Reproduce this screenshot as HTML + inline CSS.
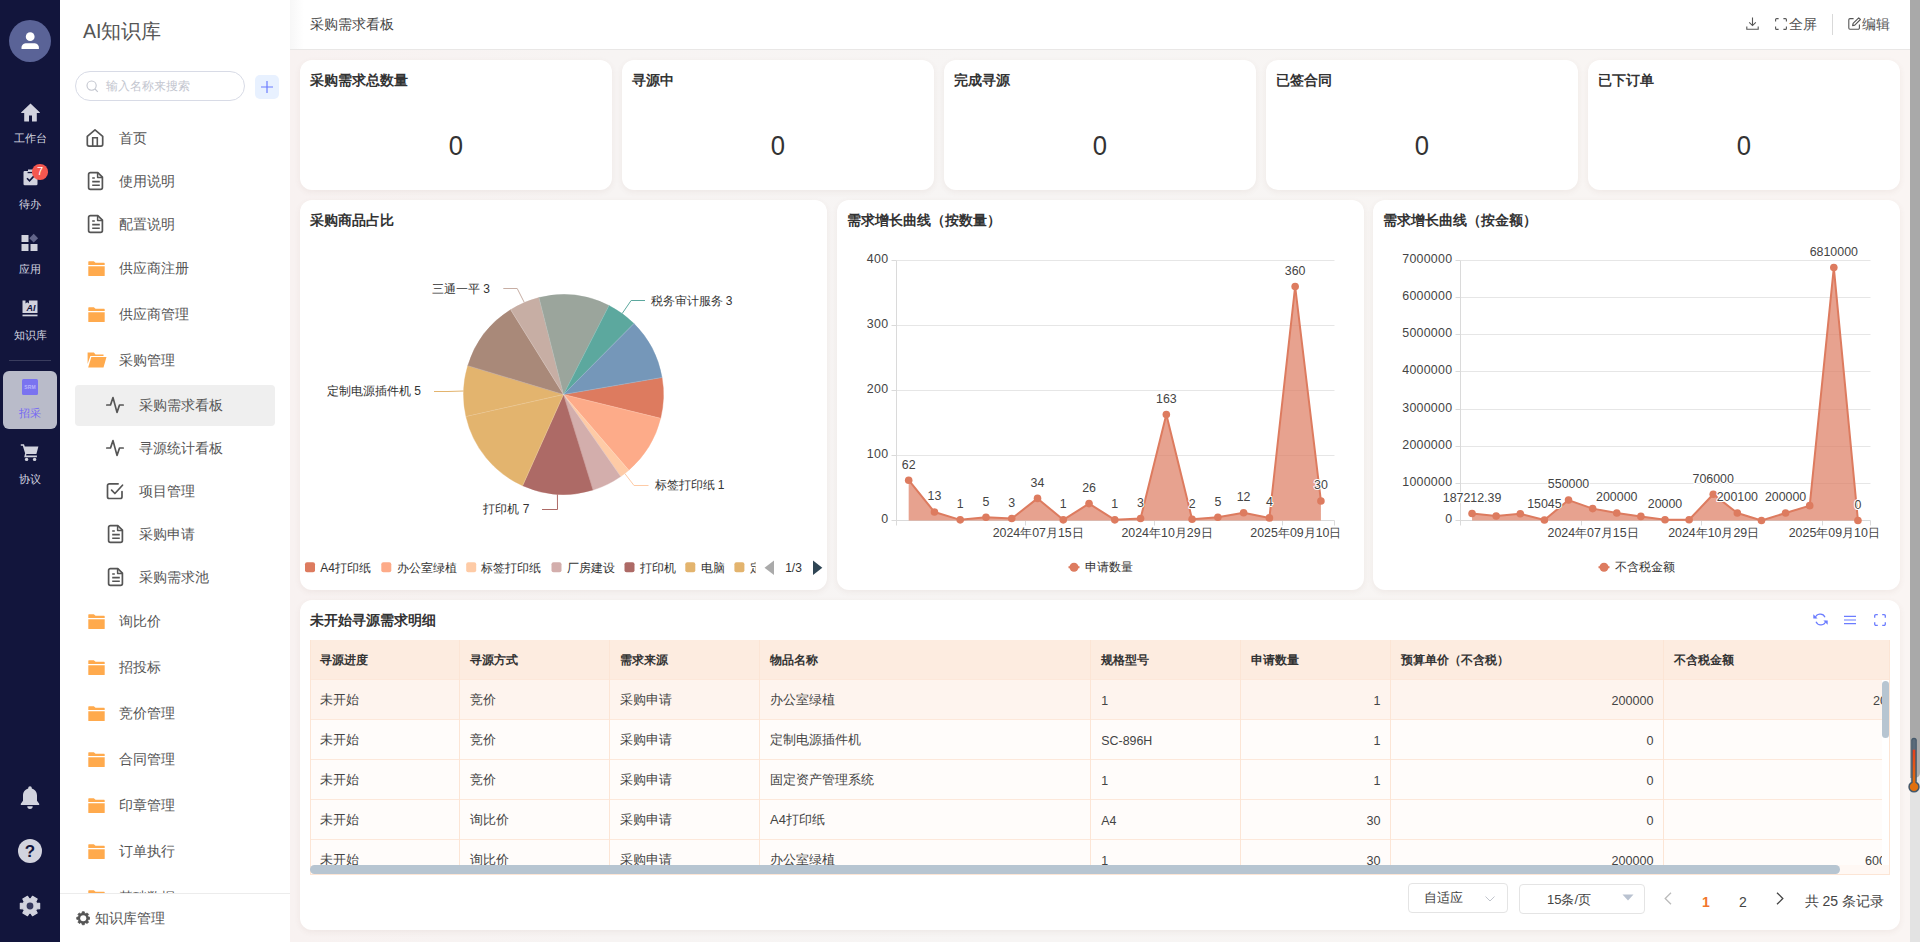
<!DOCTYPE html>
<html lang="zh"><head><meta charset="utf-8"><title>采购需求看板</title><style>
*{box-sizing:border-box;margin:0;padding:0}
html,body{width:1920px;height:942px;overflow:hidden}
body{font-family:"Liberation Sans",sans-serif;font-size:14px;color:#333;background:#f7f4f3;position:relative}
#bg{position:absolute;left:290px;top:0;width:1620px;height:942px;background:linear-gradient(90deg,#f8f2f1 0%,#f7f4f3 20%,#f7f5f4 45%,#f8f5f3 75%,#faf5f3 100%)}
.abs{position:absolute}
#rail{position:absolute;left:0;top:0;width:60px;height:942px;background:#12153c}
#rail .lbl{position:absolute;left:0;width:60px;text-align:center;font-size:11px;line-height:14px;color:#d6d7e1;font-weight:500}
#rail svg{position:absolute}
#side{position:absolute;left:60px;top:0;width:230px;height:942px;background:#fff}
#side .mi{position:absolute;left:0;width:230px;height:20px;line-height:20px;font-size:14px;color:#555}
#side .mi span{position:absolute;top:0;white-space:nowrap}
#side svg{position:absolute}
#top{position:absolute;left:290px;top:0;width:1620px;height:50px;background:linear-gradient(90deg,#f7f7f7 0,#fff 14px);border-bottom:1px solid #e9e7e6}
.card{position:absolute;background:#fff;border-radius:12px;box-shadow:0 2px 6px rgba(120,70,60,.07)}
.ct{position:absolute;left:10px;top:10px;font-size:14px;font-weight:bold;line-height:20px;color:#333;white-space:nowrap}
.kv{position:absolute;left:0;right:0;top:67px;text-align:center;font-size:28.500px;line-height:36px;color:#333}
.kv span{display:inline-block;transform:scaleX(.9)}
svg text{font-family:"Liberation Sans",sans-serif}
</style></head>
<body>
<div id="bg"></div>
<div id="top">
<div class="abs" style="left:20px;top:14px;font-size:14.200px;font-weight:500;line-height:20px;color:#444;white-space:nowrap">采购需求看板</div>
<svg class="abs" style="left:1455.5px;top:17px" width="13" height="13" viewBox="0 0 13 13"><path d="M6.5 0.4v8M3.2 5.4l3.3 3.2 3.3-3.2M0.8 9.4v2.9h11.4V9.4" fill="none" stroke="#555" stroke-width="1.1"/></svg>
<svg class="abs" style="left:1485px;top:18px" width="12" height="12" viewBox="0 0 12 12"><path d="M0.6 3.6V1.6a1 1 0 0 1 1-1h2M8.4 0.6h2a1 1 0 0 1 1 1v2M11.4 8.4v2a1 1 0 0 1-1 1h-2M3.6 11.4h-2a1 1 0 0 1-1-1v-2" fill="none" stroke="#555" stroke-width="1.1"/></svg>
<div class="abs" style="left:1498.5px;top:14px;font-size:14px;line-height:20px;color:#555;white-space:nowrap">全屏</div>
<div class="abs" style="left:1542px;top:14px;width:1px;height:21px;background:#d9d9d9"></div>
<svg class="abs" style="left:1558px;top:17px" width="13" height="13" viewBox="0 0 13 13"><path d="M5.6 1.6H2a1.2 1.2 0 0 0-1.2 1.2V11A1.2 1.2 0 0 0 2 12.200h8.200A1.2 1.2 0 0 0 11.400 11V7.600" fill="none" stroke="#555" stroke-width="1.1"/><path d="M4.6 8.6l0.500-2.200 5.600-5.600 1.700 1.700-5.600 5.600z" fill="none" stroke="#555" stroke-width="1.1" stroke-linejoin="round"/></svg>
<div class="abs" style="left:1572px;top:14px;font-size:14px;line-height:20px;color:#555;white-space:nowrap">编辑</div>
</div>
<div class="card" style="left:300px;top:60px;width:312px;height:130px"><div class="ct">采购需求总数量</div><div class="kv"><span>0</span></div></div>
<div class="card" style="left:622px;top:60px;width:312px;height:130px"><div class="ct">寻源中</div><div class="kv"><span>0</span></div></div>
<div class="card" style="left:944px;top:60px;width:312px;height:130px"><div class="ct">完成寻源</div><div class="kv"><span>0</span></div></div>
<div class="card" style="left:1266px;top:60px;width:312px;height:130px"><div class="ct">已签合同</div><div class="kv"><span>0</span></div></div>
<div class="card" style="left:1588px;top:60px;width:312px;height:130px"><div class="ct">已下订单</div><div class="kv"><span>0</span></div></div>
<div class="card" style="left:300px;top:200px;width:527px;height:390px"><div class="ct">采购商品占比</div><svg class="abs" style="left:0;top:0" width="527" height="390" viewBox="300 200 527 390">
<path d="M563.50 394.50L662.04 377.48A100 100 0 0 1 660.61 418.36Z" fill="#dd7b5f" stroke="#dd7b5f" stroke-width=".4"/>
<path d="M563.50 394.50L660.61 418.36A100 100 0 0 1 628.82 470.22Z" fill="#fdab89" stroke="#fdab89" stroke-width=".4"/>
<path d="M563.50 394.50L628.82 470.22A100 100 0 0 1 620.69 476.53Z" fill="#fecba6" stroke="#fecba6" stroke-width=".4"/>
<path d="M563.50 394.50L620.69 476.53A100 100 0 0 1 593.03 490.04Z" fill="#d3aeac" stroke="#d3aeac" stroke-width=".4"/>
<path d="M563.50 394.50L593.03 490.04A100 100 0 0 1 522.61 485.76Z" fill="#ad6a66" stroke="#ad6a66" stroke-width=".4"/>
<path d="M563.50 394.50L522.61 485.76A100 100 0 0 1 465.97 416.57Z" fill="#e3b46e" stroke="#e3b46e" stroke-width=".4"/>
<path d="M563.50 394.50L465.97 416.57A100 100 0 0 1 467.75 365.67Z" fill="#e3b46e" stroke="#e3b46e" stroke-width=".4"/>
<path d="M563.50 394.50L467.75 365.67A100 100 0 0 1 510.61 309.63Z" fill="#a98979" stroke="#a98979" stroke-width=".4"/>
<path d="M563.50 394.50L510.61 309.63A100 100 0 0 1 538.92 297.57Z" fill="#c7aea4" stroke="#c7aea4" stroke-width=".4"/>
<path d="M563.50 394.50L538.92 297.57A100 100 0 0 1 609.03 305.47Z" fill="#9ba59c" stroke="#9ba59c" stroke-width=".4"/>
<path d="M563.50 394.50L609.03 305.47A100 100 0 0 1 633.95 323.53Z" fill="#5ca89e" stroke="#5ca89e" stroke-width=".4"/>
<path d="M563.50 394.50L633.95 323.53A100 100 0 0 1 662.04 377.48Z" fill="#7597b9" stroke="#7597b9" stroke-width=".4"/>
<path d="M563.50 394.50L662.04 377.48" stroke="#fff" stroke-opacity=".28" stroke-width=".6"/>
<path d="M563.50 394.50L660.61 418.36" stroke="#fff" stroke-opacity=".28" stroke-width=".6"/>
<path d="M563.50 394.50L628.82 470.22" stroke="#fff" stroke-opacity=".28" stroke-width=".6"/>
<path d="M563.50 394.50L620.69 476.53" stroke="#fff" stroke-opacity=".28" stroke-width=".6"/>
<path d="M563.50 394.50L593.03 490.04" stroke="#fff" stroke-opacity=".28" stroke-width=".6"/>
<path d="M563.50 394.50L522.61 485.76" stroke="#fff" stroke-opacity=".28" stroke-width=".6"/>
<path d="M563.50 394.50L465.97 416.57" stroke="#fff" stroke-opacity=".28" stroke-width=".6"/>
<path d="M563.50 394.50L467.75 365.67" stroke="#fff" stroke-opacity=".28" stroke-width=".6"/>
<path d="M563.50 394.50L510.61 309.63" stroke="#fff" stroke-opacity=".28" stroke-width=".6"/>
<path d="M563.50 394.50L538.92 297.57" stroke="#fff" stroke-opacity=".28" stroke-width=".6"/>
<path d="M563.50 394.50L609.03 305.47" stroke="#fff" stroke-opacity=".28" stroke-width=".6"/>
<path d="M563.50 394.50L633.95 323.53" stroke="#fff" stroke-opacity=".28" stroke-width=".6"/>
<path d="M524.3 302.5L517.2 288.5L503.3 288.5" fill="none" stroke="#c7aea4" stroke-width="1"/>
<text x="490" y="292.7" font-size="12" fill="#333" text-anchor="end">三通一平 3</text>
<path d="M622.2 313.5L631.1 300.5L645.0 300.5" fill="none" stroke="#5ca89e" stroke-width="1"/>
<text x="650.5" y="304.8" font-size="12" fill="#333" text-anchor="start">税务审计服务 3</text>
<path d="M463.6 391.0L448.0 391.5L434.0 391.5" fill="none" stroke="#e3b46e" stroke-width="1"/>
<text x="421" y="394.8" font-size="12" fill="#333" text-anchor="end">定制电源插件机 5</text>
<path d="M557.4 494.3L557.5 509.5L542.0 509.5" fill="none" stroke="#ad6a66" stroke-width="1"/>
<text x="529.5" y="512.6" font-size="12" fill="#333" text-anchor="end">打印机 7</text>
<path d="M624.8 473.5L634.0 485.5L648.5 485.5" fill="none" stroke="#fecba6" stroke-width="1"/>
<text x="654.5" y="488.8" font-size="12" fill="#333" text-anchor="start">标签打印纸 1</text>
<clipPath id="lgc"><rect x="300" y="555" width="455.5" height="25"/></clipPath><g clip-path="url(#lgc)">
<rect x="305" y="562.3" width="10" height="10" rx="2" fill="#dd7b5f"/>
<text x="320.2" y="571.5" font-size="12" fill="#333">A4打印纸</text>
<rect x="381.3" y="562.3" width="10" height="10" rx="2" fill="#fdab89"/>
<text x="396.5" y="571.5" font-size="12" fill="#333">办公室绿植</text>
<rect x="466.2" y="562.3" width="10" height="10" rx="2" fill="#fecba6"/>
<text x="481.4" y="571.5" font-size="12" fill="#333">标签打印纸</text>
<rect x="551.5" y="562.3" width="10" height="10" rx="2" fill="#d3aeac"/>
<text x="566.7" y="571.5" font-size="12" fill="#333">厂房建设</text>
<rect x="624.5" y="562.3" width="10" height="10" rx="2" fill="#ad6a66"/>
<text x="639.7" y="571.5" font-size="12" fill="#333">打印机</text>
<rect x="685.3" y="562.3" width="10" height="10" rx="2" fill="#e3b46e"/>
<text x="700.5" y="571.5" font-size="12" fill="#333">电脑</text>
<rect x="734.4" y="562.3" width="10" height="10" rx="2" fill="#e3b46e"/>
<text x="749.6" y="571.5" font-size="12" fill="#333">定制电源插件机</text>
</g>
<path d="M774 560.5v14.500L764.500 567.700z" fill="#aaa"/>
<text x="793.5" y="571.5" font-size="12" fill="#333" text-anchor="middle">1/3</text>
<path d="M813 560.500v14.500L822.300 567.700z" fill="#2f4554"/>
</svg></div>
<div class="card" style="left:837px;top:200px;width:527px;height:390px"><div class="ct">需求增长曲线（按数量）</div><svg class="abs" style="left:0;top:0" width="527" height="390" viewBox="837 200 527 390">
<path d="M891.5 520.5H896.5" stroke="#dadada" stroke-width="1"/>
<text x="888.3" y="523.3" font-size="12.4" fill="#444" text-anchor="end" letter-spacing=".25">0</text>
<path d="M896.5 455.5H1334.5" stroke="#e6e6e6" stroke-width="1"/>
<path d="M891.5 455.5H896.5" stroke="#dadada" stroke-width="1"/>
<text x="888.3" y="458.3" font-size="12.4" fill="#444" text-anchor="end" letter-spacing=".25">100</text>
<path d="M896.5 390.5H1334.5" stroke="#e6e6e6" stroke-width="1"/>
<path d="M891.5 390.5H896.5" stroke="#dadada" stroke-width="1"/>
<text x="888.3" y="393.3" font-size="12.4" fill="#444" text-anchor="end" letter-spacing=".25">200</text>
<path d="M896.5 325.5H1334.5" stroke="#e6e6e6" stroke-width="1"/>
<path d="M891.5 325.5H896.5" stroke="#dadada" stroke-width="1"/>
<text x="888.3" y="328.3" font-size="12.4" fill="#444" text-anchor="end" letter-spacing=".25">300</text>
<path d="M896.5 260.5H1334.5" stroke="#e6e6e6" stroke-width="1"/>
<path d="M891.5 260.5H896.5" stroke="#dadada" stroke-width="1"/>
<text x="888.3" y="263.3" font-size="12.4" fill="#444" text-anchor="end" letter-spacing=".25">400</text>
<path d="M896.5 260.5V525.5" stroke="#dadada" stroke-width="1"/>
<path d="M896.5 520.5H1334.5" stroke="#dadada" stroke-width="1"/>
<path d="M1025.5 520.5V525.5" stroke="#dadada" stroke-width="1"/>
<path d="M1154.5 520.5V525.5" stroke="#dadada" stroke-width="1"/>
<path d="M1282.5 520.5V525.5" stroke="#dadada" stroke-width="1"/>
<path d="M1334.5 520.5V525.5" stroke="#dadada" stroke-width="1"/>
<text x="1038.2" y="537" font-size="12.4" fill="#444" text-anchor="middle">2024年07月15日</text>
<text x="1167.0" y="537" font-size="12.4" fill="#444" text-anchor="middle">2024年10月29日</text>
<text x="1295.9" y="537" font-size="12.4" fill="#444" text-anchor="middle">2025年09月10日</text>
<path d="M908.68 480.20L934.45 512.05L960.21 519.85L985.98 517.25L1011.74 518.55L1037.51 498.40L1063.27 519.85L1089.04 503.60L1114.80 519.85L1140.56 518.55L1166.33 414.55L1192.09 519.20L1217.86 517.25L1243.62 512.70L1269.39 517.90L1295.15 286.50L1320.92 501.00L1320.92 520.5L908.68 520.5Z" fill="#dd7b5f" fill-opacity=".7"/>
<path d="M908.68 480.20L934.45 512.05L960.21 519.85L985.98 517.25L1011.74 518.55L1037.51 498.40L1063.27 519.85L1089.04 503.60L1114.80 519.85L1140.56 518.55L1166.33 414.55L1192.09 519.20L1217.86 517.25L1243.62 512.70L1269.39 517.90L1295.15 286.50L1320.92 501.00" fill="none" stroke="#dd7b5f" stroke-width="2" stroke-linejoin="round"/>
<circle cx="908.68" cy="480.20" r="3.800" fill="#dd7b5f"/>
<circle cx="934.45" cy="512.05" r="3.800" fill="#dd7b5f"/>
<circle cx="960.21" cy="519.85" r="3.800" fill="#dd7b5f"/>
<circle cx="985.98" cy="517.25" r="3.800" fill="#dd7b5f"/>
<circle cx="1011.74" cy="518.55" r="3.800" fill="#dd7b5f"/>
<circle cx="1037.51" cy="498.40" r="3.800" fill="#dd7b5f"/>
<circle cx="1063.27" cy="519.85" r="3.800" fill="#dd7b5f"/>
<circle cx="1089.04" cy="503.60" r="3.800" fill="#dd7b5f"/>
<circle cx="1114.80" cy="519.85" r="3.800" fill="#dd7b5f"/>
<circle cx="1140.56" cy="518.55" r="3.800" fill="#dd7b5f"/>
<circle cx="1166.33" cy="414.55" r="3.800" fill="#dd7b5f"/>
<circle cx="1192.09" cy="519.20" r="3.800" fill="#dd7b5f"/>
<circle cx="1217.86" cy="517.25" r="3.800" fill="#dd7b5f"/>
<circle cx="1243.62" cy="512.70" r="3.800" fill="#dd7b5f"/>
<circle cx="1269.39" cy="517.90" r="3.800" fill="#dd7b5f"/>
<circle cx="1295.15" cy="286.50" r="3.800" fill="#dd7b5f"/>
<circle cx="1320.92" cy="501.00" r="3.800" fill="#dd7b5f"/>
<text x="908.68" y="468.50" font-size="12.4" fill="#444" text-anchor="middle" stroke="#fff" stroke-width="2" paint-order="stroke" stroke-linejoin="round">62</text>
<text x="934.45" y="500.35" font-size="12.4" fill="#444" text-anchor="middle" stroke="#fff" stroke-width="2" paint-order="stroke" stroke-linejoin="round">13</text>
<text x="960.21" y="508.15" font-size="12.4" fill="#444" text-anchor="middle" stroke="#fff" stroke-width="2" paint-order="stroke" stroke-linejoin="round">1</text>
<text x="985.98" y="505.55" font-size="12.4" fill="#444" text-anchor="middle" stroke="#fff" stroke-width="2" paint-order="stroke" stroke-linejoin="round">5</text>
<text x="1011.74" y="506.85" font-size="12.4" fill="#444" text-anchor="middle" stroke="#fff" stroke-width="2" paint-order="stroke" stroke-linejoin="round">3</text>
<text x="1037.51" y="486.70" font-size="12.4" fill="#444" text-anchor="middle" stroke="#fff" stroke-width="2" paint-order="stroke" stroke-linejoin="round">34</text>
<text x="1063.27" y="508.15" font-size="12.4" fill="#444" text-anchor="middle" stroke="#fff" stroke-width="2" paint-order="stroke" stroke-linejoin="round">1</text>
<text x="1089.04" y="491.90" font-size="12.4" fill="#444" text-anchor="middle" stroke="#fff" stroke-width="2" paint-order="stroke" stroke-linejoin="round">26</text>
<text x="1114.80" y="508.15" font-size="12.4" fill="#444" text-anchor="middle" stroke="#fff" stroke-width="2" paint-order="stroke" stroke-linejoin="round">1</text>
<text x="1140.56" y="506.85" font-size="12.4" fill="#444" text-anchor="middle" stroke="#fff" stroke-width="2" paint-order="stroke" stroke-linejoin="round">3</text>
<text x="1166.33" y="402.85" font-size="12.4" fill="#444" text-anchor="middle" stroke="#fff" stroke-width="2" paint-order="stroke" stroke-linejoin="round">163</text>
<text x="1192.09" y="507.50" font-size="12.4" fill="#444" text-anchor="middle" stroke="#fff" stroke-width="2" paint-order="stroke" stroke-linejoin="round">2</text>
<text x="1217.86" y="505.55" font-size="12.4" fill="#444" text-anchor="middle" stroke="#fff" stroke-width="2" paint-order="stroke" stroke-linejoin="round">5</text>
<text x="1243.62" y="501.00" font-size="12.4" fill="#444" text-anchor="middle" stroke="#fff" stroke-width="2" paint-order="stroke" stroke-linejoin="round">12</text>
<text x="1269.39" y="506.20" font-size="12.4" fill="#444" text-anchor="middle" stroke="#fff" stroke-width="2" paint-order="stroke" stroke-linejoin="round">4</text>
<text x="1295.15" y="274.80" font-size="12.4" fill="#444" text-anchor="middle" stroke="#fff" stroke-width="2" paint-order="stroke" stroke-linejoin="round">360</text>
<text x="1320.92" y="489.30" font-size="12.4" fill="#444" text-anchor="middle" stroke="#fff" stroke-width="2" paint-order="stroke" stroke-linejoin="round">30</text>
<path d="M1068.5 567.2h11" stroke="#dd7b5f" stroke-width="2"/><circle cx="1074" cy="567.2" r="4.5" fill="#dd7b5f"/>
<text x="1084.5" y="570.7" font-size="12" fill="#333">申请数量</text>
</svg></div>
<div class="card" style="left:1373px;top:200px;width:527px;height:390px"><div class="ct">需求增长曲线（按金额）</div><svg class="abs" style="left:0;top:0" width="527" height="390" viewBox="1373 200 527 390">
<path d="M1455.5 520.5H1460.5" stroke="#dadada" stroke-width="1"/>
<text x="1452.3" y="523.3" font-size="12.4" fill="#444" text-anchor="end" letter-spacing=".25">0</text>
<path d="M1460.5 483.5H1870.5" stroke="#e6e6e6" stroke-width="1"/>
<path d="M1455.5 483.5H1460.5" stroke="#dadada" stroke-width="1"/>
<text x="1452.3" y="486.3" font-size="12.4" fill="#444" text-anchor="end" letter-spacing=".25">1000000</text>
<path d="M1460.5 446.5H1870.5" stroke="#e6e6e6" stroke-width="1"/>
<path d="M1455.5 446.5H1460.5" stroke="#dadada" stroke-width="1"/>
<text x="1452.3" y="449.3" font-size="12.4" fill="#444" text-anchor="end" letter-spacing=".25">2000000</text>
<path d="M1460.5 409.5H1870.5" stroke="#e6e6e6" stroke-width="1"/>
<path d="M1455.5 409.5H1460.5" stroke="#dadada" stroke-width="1"/>
<text x="1452.3" y="412.3" font-size="12.4" fill="#444" text-anchor="end" letter-spacing=".25">3000000</text>
<path d="M1460.5 371.5H1870.5" stroke="#e6e6e6" stroke-width="1"/>
<path d="M1455.5 371.5H1460.5" stroke="#dadada" stroke-width="1"/>
<text x="1452.3" y="374.3" font-size="12.4" fill="#444" text-anchor="end" letter-spacing=".25">4000000</text>
<path d="M1460.5 334.5H1870.5" stroke="#e6e6e6" stroke-width="1"/>
<path d="M1455.5 334.5H1460.5" stroke="#dadada" stroke-width="1"/>
<text x="1452.3" y="337.3" font-size="12.4" fill="#444" text-anchor="end" letter-spacing=".25">5000000</text>
<path d="M1460.5 297.5H1870.5" stroke="#e6e6e6" stroke-width="1"/>
<path d="M1455.5 297.5H1460.5" stroke="#dadada" stroke-width="1"/>
<text x="1452.3" y="300.3" font-size="12.4" fill="#444" text-anchor="end" letter-spacing=".25">6000000</text>
<path d="M1460.5 260.5H1870.5" stroke="#e6e6e6" stroke-width="1"/>
<path d="M1455.5 260.5H1460.5" stroke="#dadada" stroke-width="1"/>
<text x="1452.3" y="263.3" font-size="12.4" fill="#444" text-anchor="end" letter-spacing=".25">7000000</text>
<path d="M1460.5 260.5V525.5" stroke="#dadada" stroke-width="1"/>
<path d="M1460.5 520.5H1870.5" stroke="#dadada" stroke-width="1"/>
<path d="M1581.5 520.5V525.5" stroke="#dadada" stroke-width="1"/>
<path d="M1701.5 520.5V525.5" stroke="#dadada" stroke-width="1"/>
<path d="M1822.5 520.5V525.5" stroke="#dadada" stroke-width="1"/>
<path d="M1870.5 520.5V525.5" stroke="#dadada" stroke-width="1"/>
<text x="1593.1" y="537" font-size="12.4" fill="#444" text-anchor="middle">2024年07月15日</text>
<text x="1713.7" y="537" font-size="12.4" fill="#444" text-anchor="middle">2024年10月29日</text>
<text x="1834.3" y="537" font-size="12.4" fill="#444" text-anchor="middle">2025年09月10日</text>
<path d="M1472.06 513.55L1496.18 516.04L1520.29 513.81L1544.41 519.94L1568.53 500.07L1592.65 508.61L1616.76 513.07L1640.88 516.41L1665.00 519.76L1689.12 519.76L1713.24 494.28L1737.35 513.07L1761.47 520.50L1785.59 513.07L1809.71 505.64L1833.82 267.56L1857.94 520.50L1857.94 520.5L1472.06 520.5Z" fill="#dd7b5f" fill-opacity=".7"/>
<path d="M1472.06 513.55L1496.18 516.04L1520.29 513.81L1544.41 519.94L1568.53 500.07L1592.65 508.61L1616.76 513.07L1640.88 516.41L1665.00 519.76L1689.12 519.76L1713.24 494.28L1737.35 513.07L1761.47 520.50L1785.59 513.07L1809.71 505.64L1833.82 267.56L1857.94 520.50" fill="none" stroke="#dd7b5f" stroke-width="2" stroke-linejoin="round"/>
<circle cx="1472.06" cy="513.55" r="3.800" fill="#dd7b5f"/>
<circle cx="1496.18" cy="516.04" r="3.800" fill="#dd7b5f"/>
<circle cx="1520.29" cy="513.81" r="3.800" fill="#dd7b5f"/>
<circle cx="1544.41" cy="519.94" r="3.800" fill="#dd7b5f"/>
<circle cx="1568.53" cy="500.07" r="3.800" fill="#dd7b5f"/>
<circle cx="1592.65" cy="508.61" r="3.800" fill="#dd7b5f"/>
<circle cx="1616.76" cy="513.07" r="3.800" fill="#dd7b5f"/>
<circle cx="1640.88" cy="516.41" r="3.800" fill="#dd7b5f"/>
<circle cx="1665.00" cy="519.76" r="3.800" fill="#dd7b5f"/>
<circle cx="1689.12" cy="519.76" r="3.800" fill="#dd7b5f"/>
<circle cx="1713.24" cy="494.28" r="3.800" fill="#dd7b5f"/>
<circle cx="1737.35" cy="513.07" r="3.800" fill="#dd7b5f"/>
<circle cx="1761.47" cy="520.50" r="3.800" fill="#dd7b5f"/>
<circle cx="1785.59" cy="513.07" r="3.800" fill="#dd7b5f"/>
<circle cx="1809.71" cy="505.64" r="3.800" fill="#dd7b5f"/>
<circle cx="1833.82" cy="267.56" r="3.800" fill="#dd7b5f"/>
<circle cx="1857.94" cy="520.50" r="3.800" fill="#dd7b5f"/>
<text x="1472.06" y="501.85" font-size="12.4" fill="#444" text-anchor="middle" stroke="#fff" stroke-width="2" paint-order="stroke" stroke-linejoin="round">187212.39</text>
<text x="1544.41" y="508.24" font-size="12.4" fill="#444" text-anchor="middle" stroke="#fff" stroke-width="2" paint-order="stroke" stroke-linejoin="round">15045</text>
<text x="1568.53" y="488.37" font-size="12.4" fill="#444" text-anchor="middle" stroke="#fff" stroke-width="2" paint-order="stroke" stroke-linejoin="round">550000</text>
<text x="1616.76" y="501.37" font-size="12.4" fill="#444" text-anchor="middle" stroke="#fff" stroke-width="2" paint-order="stroke" stroke-linejoin="round">200000</text>
<text x="1665.00" y="508.06" font-size="12.4" fill="#444" text-anchor="middle" stroke="#fff" stroke-width="2" paint-order="stroke" stroke-linejoin="round">20000</text>
<text x="1713.24" y="482.58" font-size="12.4" fill="#444" text-anchor="middle" stroke="#fff" stroke-width="2" paint-order="stroke" stroke-linejoin="round">706000</text>
<text x="1737.35" y="501.37" font-size="12.4" fill="#444" text-anchor="middle" stroke="#fff" stroke-width="2" paint-order="stroke" stroke-linejoin="round">200100</text>
<text x="1785.59" y="501.37" font-size="12.4" fill="#444" text-anchor="middle" stroke="#fff" stroke-width="2" paint-order="stroke" stroke-linejoin="round">200000</text>
<text x="1833.82" y="255.86" font-size="12.4" fill="#444" text-anchor="middle" stroke="#fff" stroke-width="2" paint-order="stroke" stroke-linejoin="round">6810000</text>
<text x="1857.94" y="508.80" font-size="12.4" fill="#444" text-anchor="middle" stroke="#fff" stroke-width="2" paint-order="stroke" stroke-linejoin="round">0</text>
<path d="M1598.5 567.2h11" stroke="#dd7b5f" stroke-width="2"/><circle cx="1604" cy="567.2" r="4.5" fill="#dd7b5f"/>
<text x="1614.5" y="570.7" font-size="12" fill="#333">不含税金额</text>
</svg></div>
<div class="card" style="left:300px;top:600px;width:1600px;height:330px">
<div class="ct">未开始寻源需求明细</div>
<svg class="abs" style="left:1512.5px;top:12.9px" width="15" height="13" viewBox="0 0 15 13"><path d="M2.2 5.2A5.2 5.2 0 0 1 12 4.200M12.800 7.800A5.200 5.200 0 0 1 3 8.800" fill="none" stroke="#6b7cff" stroke-width="1.2"/><path d="M0.3 1.2v4.300h4.300zM14.700 11.800v-4.300h-4.300z" fill="#6b7cff"/></svg>
<svg class="abs" style="left:1544px;top:15px" width="12" height="10" viewBox="0 0 12 10"><path d="M0 1.400h12M0 5h12M0 8.600h12" stroke="#6b7cff" stroke-width="1.2"/></svg>
<svg class="abs" style="left:1574px;top:14px" width="12" height="12" viewBox="0 0 12 12"><path d="M0.7 3.800V1.900a1.200 1.200 0 0 1 1.200-1.200h1.900M8.200 0.700h1.900a1.200 1.200 0 0 1 1.200 1.200v1.900M11.300 8.200v1.900a1.200 1.200 0 0 1-1.200 1.200h-1.900M3.800 11.300H1.900a1.200 1.200 0 0 1-1.200-1.200V8.200" fill="none" stroke="#6b7cff" stroke-width="1.300"/></svg>
<div class="abs" style="left:10px;top:40px;width:1580px;height:235px;overflow:hidden">
<div class="abs" style="left:0;top:0;width:1580px;height:40px;background:#fdece0"></div>
<div class="abs" style="left:0;top:39px;width:1580px;height:40px;background:#fef4ee;border-top:1px solid #fde8da"></div>
<div class="abs" style="left:0;top:79px;width:1580px;height:40px;background:#fffcfa;border-top:1px solid #fde8da"></div>
<div class="abs" style="left:0;top:119px;width:1580px;height:40px;background:#fffcfa;border-top:1px solid #fde8da"></div>
<div class="abs" style="left:0;top:159px;width:1580px;height:40px;background:#fffcfa;border-top:1px solid #fde8da"></div>
<div class="abs" style="left:0;top:199px;width:1580px;height:40px;background:#fffcfa;border-top:1px solid #fde8da"></div>
<div class="abs" style="left:149px;top:0;width:1px;height:235px;background:#fce5d5"></div>
<div class="abs" style="left:299px;top:0;width:1px;height:235px;background:#fce5d5"></div>
<div class="abs" style="left:449px;top:0;width:1px;height:235px;background:#fce5d5"></div>
<div class="abs" style="left:780px;top:0;width:1px;height:235px;background:#fce5d5"></div>
<div class="abs" style="left:930px;top:0;width:1px;height:235px;background:#fce5d5"></div>
<div class="abs" style="left:1080px;top:0;width:1px;height:235px;background:#fce5d5"></div>
<div class="abs" style="left:1353px;top:0;width:1px;height:235px;background:#fce5d5"></div>
<div class="abs" style="left:0;top:0;width:1px;height:235px;background:#fce5d5"></div>
<div class="abs" style="left:10px;top:10px;font-size:12px;font-weight:bold;line-height:20px;color:#333;white-space:nowrap">寻源进度</div>
<div class="abs" style="left:160px;top:10px;font-size:12px;font-weight:bold;line-height:20px;color:#333;white-space:nowrap">寻源方式</div>
<div class="abs" style="left:310px;top:10px;font-size:12px;font-weight:bold;line-height:20px;color:#333;white-space:nowrap">需求来源</div>
<div class="abs" style="left:460px;top:10px;font-size:12px;font-weight:bold;line-height:20px;color:#333;white-space:nowrap">物品名称</div>
<div class="abs" style="left:791.3px;top:10px;font-size:12px;font-weight:bold;line-height:20px;color:#333;white-space:nowrap">规格型号</div>
<div class="abs" style="left:941.3px;top:10px;font-size:12px;font-weight:bold;line-height:20px;color:#333;white-space:nowrap">申请数量</div>
<div class="abs" style="left:1091.3px;top:10px;font-size:12px;font-weight:bold;line-height:20px;color:#333;white-space:nowrap">预算单价（不含税）</div>
<div class="abs" style="left:1364.3px;top:10px;font-size:12px;font-weight:bold;line-height:20px;color:#333;white-space:nowrap">不含税金额</div>
<div class="abs" style="left:10px;top:50px;font-size:13px;line-height:20px;color:#444;white-space:nowrap">未开始</div>
<div class="abs" style="left:160px;top:50px;font-size:13px;line-height:20px;color:#444;white-space:nowrap">竞价</div>
<div class="abs" style="left:310px;top:50px;font-size:13px;line-height:20px;color:#444;white-space:nowrap">采购申请</div>
<div class="abs" style="left:460px;top:50px;font-size:13px;line-height:20px;color:#444;white-space:nowrap">办公室绿植</div>
<div class="abs" style="left:791.3px;top:51px;font-size:12.400px;line-height:20px;color:#444;white-space:nowrap">1</div>
<div class="abs" style="right:509.5px;top:51px;font-size:12.600px;line-height:20px;color:#444;white-space:nowrap">1</div>
<div class="abs" style="right:236.5px;top:51px;font-size:12.600px;line-height:20px;color:#444;white-space:nowrap">200000</div>
<div class="abs" style="left:1563px;top:51px;font-size:12.600px;line-height:20px;color:#444;white-space:nowrap">200000</div>
<div class="abs" style="left:10px;top:90px;font-size:13px;line-height:20px;color:#444;white-space:nowrap">未开始</div>
<div class="abs" style="left:160px;top:90px;font-size:13px;line-height:20px;color:#444;white-space:nowrap">竞价</div>
<div class="abs" style="left:310px;top:90px;font-size:13px;line-height:20px;color:#444;white-space:nowrap">采购申请</div>
<div class="abs" style="left:460px;top:90px;font-size:13px;line-height:20px;color:#444;white-space:nowrap">定制电源插件机</div>
<div class="abs" style="left:791.3px;top:91px;font-size:12.400px;line-height:20px;color:#444;white-space:nowrap">SC-896H</div>
<div class="abs" style="right:509.5px;top:91px;font-size:12.600px;line-height:20px;color:#444;white-space:nowrap">1</div>
<div class="abs" style="right:236.5px;top:91px;font-size:12.600px;line-height:20px;color:#444;white-space:nowrap">0</div>
<div class="abs" style="left:10px;top:130px;font-size:13px;line-height:20px;color:#444;white-space:nowrap">未开始</div>
<div class="abs" style="left:160px;top:130px;font-size:13px;line-height:20px;color:#444;white-space:nowrap">竞价</div>
<div class="abs" style="left:310px;top:130px;font-size:13px;line-height:20px;color:#444;white-space:nowrap">采购申请</div>
<div class="abs" style="left:460px;top:130px;font-size:13px;line-height:20px;color:#444;white-space:nowrap">固定资产管理系统</div>
<div class="abs" style="left:791.3px;top:131px;font-size:12.400px;line-height:20px;color:#444;white-space:nowrap">1</div>
<div class="abs" style="right:509.5px;top:131px;font-size:12.600px;line-height:20px;color:#444;white-space:nowrap">1</div>
<div class="abs" style="right:236.5px;top:131px;font-size:12.600px;line-height:20px;color:#444;white-space:nowrap">0</div>
<div class="abs" style="left:10px;top:170px;font-size:13px;line-height:20px;color:#444;white-space:nowrap">未开始</div>
<div class="abs" style="left:160px;top:170px;font-size:13px;line-height:20px;color:#444;white-space:nowrap">询比价</div>
<div class="abs" style="left:310px;top:170px;font-size:13px;line-height:20px;color:#444;white-space:nowrap">采购申请</div>
<div class="abs" style="left:460px;top:170px;font-size:13px;line-height:20px;color:#444;white-space:nowrap">A4打印纸</div>
<div class="abs" style="left:791.3px;top:171px;font-size:12.400px;line-height:20px;color:#444;white-space:nowrap">A4</div>
<div class="abs" style="right:509.5px;top:171px;font-size:12.600px;line-height:20px;color:#444;white-space:nowrap">30</div>
<div class="abs" style="right:236.5px;top:171px;font-size:12.600px;line-height:20px;color:#444;white-space:nowrap">0</div>
<div class="abs" style="left:10px;top:210px;font-size:13px;line-height:20px;color:#444;white-space:nowrap">未开始</div>
<div class="abs" style="left:160px;top:210px;font-size:13px;line-height:20px;color:#444;white-space:nowrap">询比价</div>
<div class="abs" style="left:310px;top:210px;font-size:13px;line-height:20px;color:#444;white-space:nowrap">采购申请</div>
<div class="abs" style="left:460px;top:210px;font-size:13px;line-height:20px;color:#444;white-space:nowrap">办公室绿植</div>
<div class="abs" style="left:791.3px;top:211px;font-size:12.400px;line-height:20px;color:#444;white-space:nowrap">1</div>
<div class="abs" style="right:509.5px;top:211px;font-size:12.600px;line-height:20px;color:#444;white-space:nowrap">30</div>
<div class="abs" style="right:236.5px;top:211px;font-size:12.600px;line-height:20px;color:#444;white-space:nowrap">200000</div>
<div class="abs" style="left:1555px;top:211px;font-size:12.600px;line-height:20px;color:#444;white-space:nowrap">6000000</div>
<div class="abs" style="left:1572px;top:40px;width:8px;height:195px;background:#fff"></div>
<div class="abs" style="left:1579px;top:0;width:1px;height:235px;background:#fce5d5"></div>
<div class="abs" style="left:1572px;top:41px;width:7px;height:57px;border-radius:4px;background:#b7c5d1"></div>
<div class="abs" style="left:1px;top:225px;width:1578px;height:9px;background:#fff8f4"></div>
<div class="abs" style="left:0;top:225px;width:1530px;height:9px;border-radius:5px;background:#b7c5d1"></div>
<div class="abs" style="left:0;top:234px;width:1580px;height:1px;background:#fce5d5"></div>
</div>
<div class="abs" style="left:1108px;top:283px;width:100px;height:30px;border:1px solid #e4e4e4;border-radius:4px"></div>
<div class="abs" style="left:1123.5px;top:288px;font-size:13px;line-height:20px;color:#444;white-space:nowrap">自适应</div>
<svg class="abs" style="left:1185px;top:296px" width="10" height="6" viewBox="0 0 10 6"><path d="M0.5 0.500L5 5l4.500-4.500" fill="none" stroke="#c0c4cc" stroke-width="1"/></svg>
<div class="abs" style="left:1219px;top:284px;width:126px;height:30px;border:1px solid #e4e4e4;border-radius:4px"></div>
<div class="abs" style="left:1247px;top:290px;font-size:13px;line-height:20px;color:#444;white-space:nowrap">15条/页</div>
<svg class="abs" style="left:1321.5px;top:294px" width="12" height="7" viewBox="0 0 12 7"><path d="M0.500 0.500h11L6 6.500z" fill="#b9c2d0"/></svg>
<svg class="abs" style="left:1364px;top:292px" width="8" height="13" viewBox="0 0 8 13"><path d="M7 0.700L1.200 6.500 7 12.300" fill="none" stroke="#bbb" stroke-width="1.300"/></svg>
<div class="abs" style="left:1396px;top:292px;width:20px;text-align:center;font-size:14px;font-weight:bold;line-height:20px;color:#f2762b">1</div>
<div class="abs" style="left:1433px;top:292px;width:20px;text-align:center;font-size:14px;line-height:20px;color:#444">2</div>
<svg class="abs" style="left:1476px;top:292px" width="8" height="13" viewBox="0 0 8 13"><path d="M1 0.700L6.800 6.500 1 12.300" fill="none" stroke="#444" stroke-width="1.300"/></svg>
<div class="abs" style="left:1504.5px;top:291px;font-size:14px;line-height:20px;color:#444;white-space:nowrap">共 25 条记录</div>
</div>
<div id="rail">
<div class="abs" style="left:9px;top:20px;width:42px;height:42px;border-radius:50%;background:#5a6397"></div>
<svg style="left:20px;top:30px" width="20" height="20" viewBox="0 0 20 20"><circle cx="10.200" cy="6.700" r="4.400" fill="#fff"/><path d="M1.500 18.900v-1.400c0-2.900 2.600-4.300 5-4.300h7.400c2.400 0 5 1.400 5 4.300v1.400z" fill="#fff"/></svg>
<svg style="left:20.500px;top:102.500px" width="19" height="19" viewBox="0 0 19 19"><path d="M9.500 0.400 0.300 9.200a.5.500 0 0 0 .35.900H3.200v7.800a.5.500 0 0 0 .5.500h4.300V12.600h3v5.800h4.300a.5.500 0 0 0 .5-.5V10.100h2.550a.5.500 0 0 0 .35-.9z" fill="#d2d3de"/></svg>
<div class="lbl" style="top:131px">工作台</div>
<svg style="left:22.500px;top:169px" width="15" height="17" viewBox="0 0 15 17"><path d="M1.800 1.900h3.200V0.600h5v1.300h3.200a1.300 1.300 0 0 1 1.300 1.300v11.700a1.300 1.300 0 0 1-1.300 1.300H1.800a1.300 1.300 0 0 1-1.300-1.300V3.200a1.300 1.300 0 0 1 1.300-1.300z" fill="#d2d3de"/><path d="M4 9.300l2.500 2.500 4.600-4.900" stroke="#12153c" stroke-width="1.600" fill="none"/><rect x="4.600" y="2.900" width="5.800" height="1.300" fill="#12153c"/></svg>
<div class="abs" style="left:32.300px;top:164.300px;width:15.600px;height:15.600px;border-radius:50%;background:#f4574f;color:#fff;font-size:11px;line-height:15.600px;text-align:center">7</div>
<div class="lbl" style="top:197px">待办</div>
<svg style="left:20px;top:233px" width="20" height="20" viewBox="0 0 20 20"><rect x="1.5" y="2" width="7" height="7" fill="#d2d3de"/><rect x="1.5" y="11" width="7" height="7" fill="#d2d3de"/><rect x="10.5" y="11" width="7" height="7" fill="#d2d3de"/><rect x="10.6" y="2.1" width="6.2" height="6.2" fill="#62658a" transform="rotate(45 13.7 5.2)"/></svg>
<div class="lbl" style="top:262px">应用</div>
<svg style="left:20px;top:297px" width="20" height="22" viewBox="0 0 20 22"><path d="M2.5 3.5h3v3l1.7-1.2 1.7 1.2v-3h8.6v12.5h-15z" fill="#d2d3de"/><rect x="2.5" y="17.6" width="15" height="1.7" fill="#d2d3de"/><text x="11" y="14" font-size="9" font-weight="bold" font-style="italic" fill="#12153c" text-anchor="middle">AI</text></svg>
<div class="lbl" style="top:328px">知识库</div>
<div class="abs" style="left:9px;top:360px;width:42px;height:1px;background:#3a3d5e"></div>
<div class="abs" style="left:3px;top:371px;width:54px;height:58px;border-radius:6px;background:#b9bbc9"></div>
<div class="abs" style="left:22px;top:379px;width:16px;height:16px;border-radius:1.500px;background:#7a73f0;color:#b9b5fb;font-size:5px;line-height:16px;text-align:center;font-weight:bold;letter-spacing:.2px">SRM</div>
<div class="lbl" style="top:406px;color:#7466f6;font-weight:500">招采</div>
<svg style="left:20px;top:442px" width="20" height="20" viewBox="0 0 20 20"><path d="M0.8 2.2h3.2l0.8 2.2h13.6l-2 7.6H6.4l-.3 1.6h10.8v1.6H4.2l.9-3.9L2.8 3.8H0.8z" fill="#d2d3de"/><circle cx="6.6" cy="17.4" r="1.7" fill="#d2d3de"/><circle cx="14.6" cy="17.4" r="1.7" fill="#d2d3de"/></svg>
<div class="lbl" style="top:472px">协议</div>
<svg style="left:19px;top:785px" width="22" height="26" viewBox="0 0 22 26"><path d="M11 1.2a1.8 1.8 0 0 1 1.8 1.8v.5c3.1.8 5.2 3.6 5.2 7v5.2l2.2 3v1.2H1.8v-1.2l2.2-3v-5.2c0-3.4 2.1-6.2 5.2-7V3A1.8 1.8 0 0 1 11 1.2z" fill="#d2d3de"/><path d="M8.3 21.3h5.4a2.7 2.7 0 0 1-5.4 0z" fill="#d2d3de"/></svg>
<div class="abs" style="left:18px;top:839px;width:24px;height:24px;border-radius:50%;background:#d2d3de;color:#12153c;font-size:17px;font-weight:bold;line-height:25px;text-align:center">?</div>
<svg style="left:18.5px;top:894.5px" width="22" height="22" viewBox="-0.55 -0.55 1.1 1.1"><path d="M0.482 -0.134 L0.482 0.134 L0.332 0.140 L0.287 0.218 L0.357 0.350 L0.124 0.484 L0.045 0.357 L-0.045 0.357 L-0.124 0.484 L-0.357 0.350 L-0.287 0.218 L-0.332 0.140 L-0.482 0.134 L-0.482 -0.134 L-0.332 -0.140 L-0.287 -0.218 L-0.357 -0.350 L-0.124 -0.484 L-0.045 -0.357 L0.045 -0.357 L0.124 -0.484 L0.357 -0.350 L0.287 -0.218 L0.332 -0.140Z" fill="#d2d3de" stroke="#d2d3de" stroke-width="0.06" stroke-linejoin="round"/><circle r="0.17" fill="#373a5e"/></svg>
</div>
<div id="side">
<div class="abs" style="left:23px;top:17.500px;font-size:19.500px;line-height:26px;color:#555;white-space:nowrap">AI知识库</div>
<div class="abs" style="left:15px;top:71px;width:170px;height:30px;border:1px solid #d8dbe6;border-radius:15px"></div>
<svg style="left:26px;top:80px" width="13" height="13" viewBox="0 0 13 13"><circle cx="5.6" cy="5.6" r="4.6" fill="none" stroke="#c3c6cf" stroke-width="1.1"/><path d="M9 9l2.8 2.8" stroke="#c3c6cf" stroke-width="1.1"/></svg>
<div class="abs" style="left:46px;top:78px;font-size:12px;line-height:16px;color:#c3c6cf;white-space:nowrap">输入名称来搜索</div>
<div class="abs" style="left:195px;top:74.500px;width:24px;height:24px;border-radius:5px;background:#e8f1ff"></div>
<svg style="left:201px;top:80.500px" width="12" height="12" viewBox="0 0 12 12"><path d="M6 0v12M0 6h12" stroke="#6b7cff" stroke-width="1.2"/></svg>
<div class="abs" style="left:0;top:110px;width:230px;height:783px;overflow:hidden">
<svg style="left:25px;top:18px" width="20" height="20" viewBox="0 0 20 20"><path d="M2.3 8.3 10 1.9l7.7 6.4v8a1.8 1.8 0 0 1-1.8 1.8H4.1a1.8 1.8 0 0 1-1.8-1.8z" fill="none" stroke="#555" stroke-width="1.7" stroke-linejoin="round"/><path d="M7.700 18V9.800h4.600V18" fill="none" stroke="#555" stroke-width="1.600"/></svg><div class="mi" style="top:18px"><span style="left:59px">首页</span></div>
<svg style="left:26.7px;top:61px" width="18" height="20" viewBox="0 0 18 20"><path d="M3.4 1.6h7.4l4.6 4.6v10.4a1.8 1.8 0 0 1-1.8 1.8H3.4a1.8 1.8 0 0 1-1.8-1.8V3.4a1.8 1.8 0 0 1 1.8-1.8z" fill="none" stroke="#555" stroke-width="1.7" stroke-linejoin="round"/><path d="M10.600 1.800v4.600h4.600" fill="none" stroke="#555" stroke-width="1.500" stroke-linejoin="round"/><path d="M5.200 7h2.600M5.200 10.600h7.600M5.200 14.200h7.600" stroke="#555" stroke-width="1.600"/></svg><div class="mi" style="top:61px"><span style="left:59px">使用说明</span></div>
<svg style="left:26.7px;top:104px" width="18" height="20" viewBox="0 0 18 20"><path d="M3.4 1.6h7.4l4.6 4.6v10.4a1.8 1.8 0 0 1-1.8 1.8H3.4a1.8 1.8 0 0 1-1.8-1.8V3.4a1.8 1.8 0 0 1 1.8-1.8z" fill="none" stroke="#555" stroke-width="1.7" stroke-linejoin="round"/><path d="M10.600 1.800v4.600h4.600" fill="none" stroke="#555" stroke-width="1.500" stroke-linejoin="round"/><path d="M5.200 7h2.600M5.200 10.600h7.600M5.200 14.200h7.600" stroke="#555" stroke-width="1.600"/></svg><div class="mi" style="top:104px"><span style="left:59px">配置说明</span></div>
<svg style="left:27.5px;top:150.7px" width="17" height="15" viewBox="0 0 17 15"><path d="M0.300 0.900Q0.300 0.300 0.900 0.300H5.800L7.600 1.800H16.100Q16.700 1.800 16.700 2.400V3.900H0.300Z" fill="#ffaa4d"/><path d="M0.300 5.300H16.700V14.400Q16.700 15 16.100 15H0.900Q0.300 15 0.300 14.400Z" fill="#ffaa4d"/></svg><div class="mi" style="top:148px"><span style="left:59px">供应商注册</span></div>
<svg style="left:27.5px;top:196.7px" width="17" height="15" viewBox="0 0 17 15"><path d="M0.300 0.900Q0.300 0.300 0.900 0.300H5.800L7.600 1.800H16.100Q16.700 1.800 16.700 2.400V3.900H0.300Z" fill="#ffaa4d"/><path d="M0.300 5.300H16.700V14.400Q16.700 15 16.100 15H0.900Q0.300 15 0.300 14.400Z" fill="#ffaa4d"/></svg><div class="mi" style="top:194px"><span style="left:59px">供应商管理</span></div>
<svg style="left:27px;top:242.3px" width="20" height="16" viewBox="0 0 20 16"><path d="M0.6 0.6h6.3l1.6 1.9h8v1.6H3.4L0.6 12z" fill="#ffaa4d"/><path d="M4.3 5h15.2l-3 10.4H1.2z" fill="#ffaa4d"/></svg><div class="mi" style="top:240px"><span style="left:59px">采购管理</span></div>
<div class="abs" style="left:15px;top:275px;width:200px;height:41px;border-radius:4px;background:#efefef"></div>
<svg style="left:45px;top:284.8px" width="20" height="20" viewBox="0 0 20 20"><path d="M1.800 10h3.700L8 2.600l4 14.800 2.500-7.400h3.700" fill="none" stroke="#555" stroke-width="1.700" stroke-linejoin="round" stroke-linecap="round"/></svg><div class="mi" style="top:285px"><span style="left:79px">采购需求看板</span></div>
<svg style="left:45px;top:327.8px" width="20" height="20" viewBox="0 0 20 20"><path d="M1.800 10h3.700L8 2.600l4 14.800 2.500-7.400h3.700" fill="none" stroke="#555" stroke-width="1.700" stroke-linejoin="round" stroke-linecap="round"/></svg><div class="mi" style="top:328px"><span style="left:79px">寻源统计看板</span></div>
<svg style="left:45px;top:371px" width="20" height="20" viewBox="0 0 20 20"><path d="M17 10.5v5.2a1.8 1.8 0 0 1-1.8 1.8H4.3a1.8 1.8 0 0 1-1.8-1.8V4.6a1.8 1.8 0 0 1 1.8-1.8h8.8" fill="none" stroke="#555" stroke-width="1.7" stroke-linecap="round"/><path d="M6.6 9.2l3.3 3.3 7.6-8.3" fill="none" stroke="#555" stroke-width="1.7" stroke-linecap="round" stroke-linejoin="round"/></svg><div class="mi" style="top:371px"><span style="left:79px">项目管理</span></div>
<svg style="left:46.7px;top:414px" width="18" height="20" viewBox="0 0 18 20"><path d="M3.4 1.6h7.4l4.6 4.6v10.4a1.8 1.8 0 0 1-1.8 1.8H3.4a1.8 1.8 0 0 1-1.8-1.8V3.4a1.8 1.8 0 0 1 1.8-1.8z" fill="none" stroke="#555" stroke-width="1.7" stroke-linejoin="round"/><path d="M10.600 1.800v4.600h4.600" fill="none" stroke="#555" stroke-width="1.500" stroke-linejoin="round"/><path d="M5.200 7h2.600M5.200 10.600h7.600M5.200 14.200h7.600" stroke="#555" stroke-width="1.600"/></svg><div class="mi" style="top:414px"><span style="left:79px">采购申请</span></div>
<svg style="left:46.7px;top:457px" width="18" height="20" viewBox="0 0 18 20"><path d="M3.4 1.6h7.4l4.6 4.6v10.4a1.8 1.8 0 0 1-1.8 1.8H3.4a1.8 1.8 0 0 1-1.8-1.8V3.4a1.8 1.8 0 0 1 1.8-1.8z" fill="none" stroke="#555" stroke-width="1.7" stroke-linejoin="round"/><path d="M10.600 1.800v4.600h4.600" fill="none" stroke="#555" stroke-width="1.500" stroke-linejoin="round"/><path d="M5.200 7h2.600M5.200 10.600h7.600M5.200 14.200h7.600" stroke="#555" stroke-width="1.600"/></svg><div class="mi" style="top:457px"><span style="left:79px">采购需求池</span></div>
<svg style="left:27.5px;top:503.7px" width="17" height="15" viewBox="0 0 17 15"><path d="M0.300 0.900Q0.300 0.300 0.900 0.300H5.800L7.600 1.800H16.100Q16.700 1.800 16.700 2.400V3.900H0.300Z" fill="#ffaa4d"/><path d="M0.300 5.300H16.700V14.400Q16.700 15 16.100 15H0.900Q0.300 15 0.300 14.400Z" fill="#ffaa4d"/></svg><div class="mi" style="top:501px"><span style="left:59px">询比价</span></div>
<svg style="left:27.5px;top:549.7px" width="17" height="15" viewBox="0 0 17 15"><path d="M0.300 0.900Q0.300 0.300 0.900 0.300H5.800L7.600 1.800H16.100Q16.700 1.800 16.700 2.400V3.900H0.300Z" fill="#ffaa4d"/><path d="M0.300 5.300H16.700V14.400Q16.700 15 16.100 15H0.900Q0.300 15 0.300 14.400Z" fill="#ffaa4d"/></svg><div class="mi" style="top:547px"><span style="left:59px">招投标</span></div>
<svg style="left:27.5px;top:595.7px" width="17" height="15" viewBox="0 0 17 15"><path d="M0.300 0.900Q0.300 0.300 0.900 0.300H5.800L7.600 1.800H16.100Q16.700 1.800 16.700 2.400V3.900H0.300Z" fill="#ffaa4d"/><path d="M0.300 5.300H16.700V14.400Q16.700 15 16.100 15H0.900Q0.300 15 0.300 14.400Z" fill="#ffaa4d"/></svg><div class="mi" style="top:593px"><span style="left:59px">竞价管理</span></div>
<svg style="left:27.5px;top:641.7px" width="17" height="15" viewBox="0 0 17 15"><path d="M0.300 0.900Q0.300 0.300 0.900 0.300H5.800L7.600 1.800H16.100Q16.700 1.800 16.700 2.400V3.900H0.300Z" fill="#ffaa4d"/><path d="M0.300 5.300H16.700V14.400Q16.700 15 16.100 15H0.900Q0.300 15 0.300 14.400Z" fill="#ffaa4d"/></svg><div class="mi" style="top:639px"><span style="left:59px">合同管理</span></div>
<svg style="left:27.5px;top:687.7px" width="17" height="15" viewBox="0 0 17 15"><path d="M0.300 0.900Q0.300 0.300 0.900 0.300H5.800L7.600 1.800H16.100Q16.700 1.800 16.700 2.400V3.900H0.300Z" fill="#ffaa4d"/><path d="M0.300 5.300H16.700V14.400Q16.700 15 16.100 15H0.900Q0.300 15 0.300 14.400Z" fill="#ffaa4d"/></svg><div class="mi" style="top:685px"><span style="left:59px">印章管理</span></div>
<svg style="left:27.5px;top:733.7px" width="17" height="15" viewBox="0 0 17 15"><path d="M0.300 0.900Q0.300 0.300 0.900 0.300H5.800L7.600 1.800H16.100Q16.700 1.800 16.700 2.400V3.900H0.300Z" fill="#ffaa4d"/><path d="M0.300 5.300H16.700V14.400Q16.700 15 16.100 15H0.900Q0.300 15 0.300 14.400Z" fill="#ffaa4d"/></svg><div class="mi" style="top:731px"><span style="left:59px">订单执行</span></div>
<svg style="left:27.5px;top:779.7px" width="17" height="15" viewBox="0 0 17 15"><path d="M0.300 0.900Q0.300 0.300 0.900 0.300H5.800L7.600 1.800H16.100Q16.700 1.800 16.700 2.400V3.900H0.300Z" fill="#ffaa4d"/><path d="M0.300 5.300H16.700V14.400Q16.700 15 16.100 15H0.900Q0.300 15 0.300 14.400Z" fill="#ffaa4d"/></svg><div class="mi" style="top:777px"><span style="left:59px">基础数据</span></div>
</div>
<div class="abs" style="left:0;top:893px;width:230px;height:1px;background:#ececec"></div>
<svg style="left:15.5px;top:911px" width="14.5" height="14.5" viewBox="-0.55 -0.55 1.1 1.1"><path d="M0.494 -0.078 L0.494 0.078 L0.378 0.097 L0.336 0.199 L0.405 0.294 L0.294 0.405 L0.199 0.336 L0.097 0.378 L0.078 0.494 L-0.078 0.494 L-0.097 0.378 L-0.199 0.336 L-0.294 0.405 L-0.405 0.294 L-0.336 0.199 L-0.378 0.097 L-0.494 0.078 L-0.494 -0.078 L-0.378 -0.097 L-0.336 -0.199 L-0.405 -0.294 L-0.294 -0.405 L-0.199 -0.336 L-0.097 -0.378 L-0.078 -0.494 L0.078 -0.494 L0.097 -0.378 L0.199 -0.336 L0.294 -0.405 L0.405 -0.294 L0.336 -0.199 L0.378 -0.097Z" fill="#555" stroke="#555" stroke-width="0.06" stroke-linejoin="round"/><circle r="0.23" fill="#fff"/></svg>
<div class="abs" style="left:35px;top:908px;font-size:14px;line-height:20px;color:#555;white-space:nowrap">知识库管理</div>
</div>
<div class="abs" style="left:1910px;top:0;width:10px;height:942px;background:#e3e3e3"></div>
<div class="abs" style="left:1910px;top:0;width:10px;height:778px;background:#a9a9a9;border-radius:0 0 5px 0"></div>
<svg class="abs" style="left:1906px;top:735px" width="14" height="60" viewBox="1906 735 14 60"><defs><linearGradient id="tg" x1="0" y1="0" x2="0" y2="1"><stop offset="0" stop-color="#e5401f"/><stop offset="1" stop-color="#e0700f"/></linearGradient></defs><rect x="1911.2" y="737.8" width="5.600" height="46" rx="2.800" fill="#44586a"/><circle cx="1914" cy="786.900" r="5.700" fill="#44586a"/><rect x="1912.300" y="739" width="3.400" height="12" rx="1.700" fill="#5a6b7a"/><rect x="1912.700" y="749.700" width="2.600" height="34" fill="url(#tg)"/><circle cx="1914" cy="786.900" r="4.200" fill="#e0700f"/></svg>
</body></html>
